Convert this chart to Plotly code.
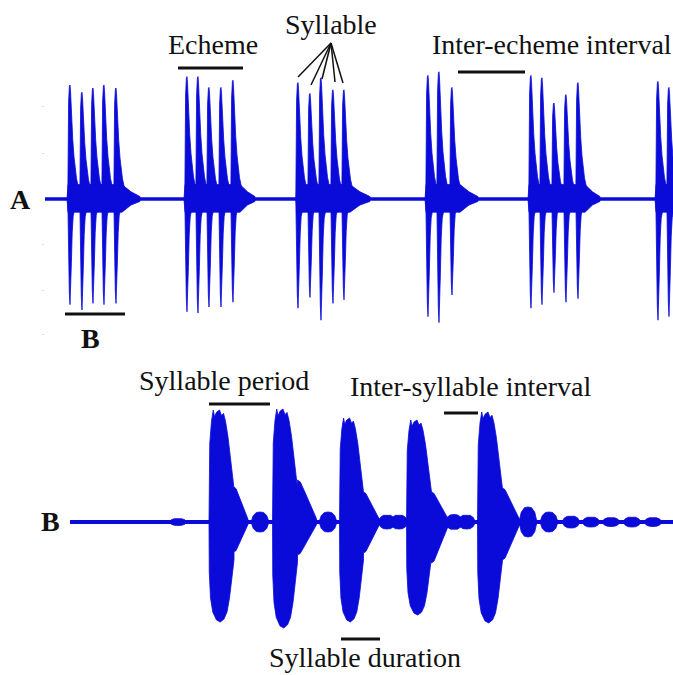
import plotly.graph_objects as go

BLUE = "#0b0bd9"
W, H = 673, 675

# ---------------- Panel A : whole call (time in ms, amplitude normalised) -------------
A_syl_t = [50, 74, 96, 118, 142,
           284, 306, 328, 352, 376,
           506, 530, 552, 576, 598,
           766, 788, 814,
           972, 994, 1018, 1042, 1066,
           1226, 1248]
A_syl_top = [0.95, 0.89, 0.925, 0.95, 0.925,
             1.02, 1.02, 0.93, 0.93, 0.99,
             0.97, 0.88, 1.01, 0.91, 0.91,
             1.03, 1.06, 0.93,
             1.03, 1.01, 0.80, 0.87, 0.97,
             0.98, 0.93]
A_syl_bot = [-0.88, -0.925, -0.87, -0.88, -0.87,
             -0.94, -0.95, -0.90, -0.90, -0.86,
             -0.91, -0.82, -1.01, -0.87, -0.84,
             -0.98, -1.03, -0.80,
             -0.91, -0.88, -0.78, -0.86, -0.83,
             -1.01, -0.98]
A_ech_start = [44, 278, 502, 760, 966, 1220]
A_ech_end = [154, 390, 610, 830, 1080, 1256]
A_ech_tail = [190, 420, 650, 866, 1110, 1256]
A_T_MAX = 1256

# ---------------- Panel B : one echeme, expanded (time in ms) -------------
B_syl_on = [55.6, 81.0, 107.8, 134.6, 163.0]
B_syl_off = [65.6, 91.0, 117.4, 144.6, 173.0]
B_syl_top = [1.12, 1.13, 1.04, 1.02, 1.10]
B_syl_bot = [-1.00, -1.06, -1.00, -0.93, -1.01]
B_tail_top = [0.35, 0.42, 0.30, 0.30, 0.34]
B_tail_bot = [-0.30, -0.33, -0.31, -0.41, -0.38]
B_tail_len = [5.6, 7.6, 6.4, 6.8, 6.8]
B_bump_t = [43.2, 76.0, 103.2, 126.8, 131.6, 153.6, 158.6,
            183.2, 191.6, 200.4, 208.4, 216.4, 224.8, 233.2]
B_bump_amp = [0.035, 0.10, 0.10, 0.07, 0.07, 0.075, 0.07,
              0.15, 0.10, 0.06, 0.05, 0.045, 0.05, 0.045]
B_T_MAX = 241.2

# envelope glyph templates (offset, fraction of peak)
A_UP = [(-4.4, 0), (-3.8, 0.5), (-2.8, 0.85), (-1.2, 0.99), (0, 1.0), (1.0, 0.95),
        (2.0, 0.82), (3.4, 0.68), (5.4, 0.53), (8.0, 0.37), (10.4, 0.27),
        (13.0, 0.18), (16.0, 0.12), (20.0, 0.06), (24.0, 0.0)]
A_DN = [(-4.4, 0), (-3.8, 0.3), (-2.8, 0.6), (-1.4, 0.88), (0, 1.0), (1.4, 0.88),
        (2.8, 0.6), (4.4, 0.32), (6.4, 0.16), (10.0, 0.08), (16.0, 0.0)]
B_UP = [(0, 0), (0, 0.45), (0.03, 0.7), (0.1, 0.9), (0.17, 1.0), (0.22, 0.94),
        (0.3, 0.98), (0.42, 1.0), (0.5, 0.95), (0.58, 0.97), (0.66, 0.9),
        (0.76, 0.76), (0.86, 0.58), (0.94, 0.4), (1.0, 0.3)]
B_DN = [(0, 0), (0.01, 0.5), (0.06, 0.76), (0.15, 0.9), (0.3, 0.98), (0.45, 1.0),
        (0.6, 0.97), (0.72, 0.9), (0.82, 0.76), (0.92, 0.55), (1.0, 0.38)]
TAIL = [(0, 1.0), (0.15, 0.95), (0.4, 0.7), (0.7, 0.38), (1.0, 0.08)]
BUMP = [(-1.0, 0), (-0.75, 0.65), (-0.4, 0.95), (0, 1.0), (0.4, 0.95), (0.75, 0.65),
        (1.0, 0), (0.75, -0.65), (0.4, -0.95), (0, -1.0), (-0.4, -0.95), (-0.75, -0.65),
        (-1.0, 0)]


def px(x):
    return x / W


def py(y):
    return 1 - y / H


# ---- build panel A polygons
ax, ay = [], []
for s, e, t in zip(A_ech_start, A_ech_end, A_ech_tail):
    up = [(s, 0), (s + 2, 0.12), (e, 0.12), ((e + t) / 2, 0.06), (t, 0.02)]
    dn = [(t, -0.02), ((e + t) / 2, -0.05), (e, -0.11), (s + 2, -0.11), (s, 0)]
    for xx, yy in up + dn:
        ax.append(xx)
        ay.append(yy)
    ax.append(None)
    ay.append(None)
for t0, top, bot in zip(A_syl_t, A_syl_top, A_syl_bot):
    for dx, f in A_UP:
        ax.append(t0 + dx)
        ay.append(top * f)
    for dx, f in reversed(A_DN):
        ax.append(t0 + dx)
        ay.append(bot * f)
    ax.append(None)
    ay.append(None)

# ---- build panel B polygons
bx, by = [], []
for on, off, top, bot, tt, tb, tl in zip(B_syl_on, B_syl_off, B_syl_top, B_syl_bot,
                                       B_tail_top, B_tail_bot, B_tail_len):
    d = off - on
    for f, a in B_UP:
        bx.append(on + f * d)
        by.append(top * a)
    for f, a in TAIL:
        bx.append(off + f * tl)
        by.append(tt * a)
    for f, a in reversed(TAIL):
        bx.append(off + f * tl)
        by.append(tb * a)
    for f, a in reversed(B_DN):
        bx.append(on + f * d)
        by.append(bot * a)
    bx.append(None)
    by.append(None)
for c, a in zip(B_bump_t, B_bump_amp):
    hw = 3.6
    for dx, f in BUMP:
        bx.append(c + dx * hw)
        by.append(a * f)
    bx.append(None)
    by.append(None)

fig = go.Figure()
fig.add_trace(go.Scatter(x=[0, A_T_MAX], y=[0, 0], mode="lines",
                         line=dict(color=BLUE, width=3.5), xaxis="x", yaxis="y",
                         hoverinfo="skip", showlegend=False))
fig.add_trace(go.Scatter(x=ax, y=ay, mode="lines", fill="toself", fillcolor=BLUE,
                         line=dict(color=BLUE, width=0.8), xaxis="x", yaxis="y",
                         hoverinfo="skip", showlegend=False))
fig.add_trace(go.Scatter(x=[0, 56, 56, B_T_MAX], y=[0, 0, 0, 0], mode="lines",
                         line=dict(color=BLUE, width=4), xaxis="x2", yaxis="y2",
                         hoverinfo="skip", showlegend=False))
fig.add_trace(go.Scatter(x=bx, y=by, mode="lines", fill="toself", fillcolor=BLUE,
                         line=dict(color=BLUE, width=0.8), xaxis="x2", yaxis="y2",
                         hoverinfo="skip", showlegend=False))

hidden = dict(showgrid=False, zeroline=False, showline=False, showticklabels=False, ticks="")
fig.update_layout(
    width=W, height=H, margin=dict(l=0, r=0, t=0, b=0),
    paper_bgcolor="white", plot_bgcolor="white",
    xaxis=dict(domain=[45 / W, 1], range=[0, A_T_MAX], anchor="y", **hidden),
    yaxis=dict(domain=[py(343), py(55)], range=[-1.2, 1.2], anchor="x",
               showgrid=False, zeroline=False, showline=False, showticklabels=False,
               ticks="outside", ticklen=2, tickwidth=1, tickcolor="#dcdcdc",
               tickvals=[0.77, 0.38, -0.38, -0.76, -1.13]),
    xaxis2=dict(domain=[70 / W, 1], range=[0, B_T_MAX], anchor="y2", **hidden),
    yaxis2=dict(domain=[py(642), py(402)], range=[-1.2, 1.2], anchor="x2", **hidden),
    showlegend=False,
)

FONT = "Liberation Serif, Times New Roman, serif"
labels = [
    ("Echeme", 213, 44, False),
    ("Syllable", 331, 25, False),
    ("Inter-echeme interval", 552, 45, False),
    ("A", 20, 199, True),
    ("B", 90, 338, True),
    ("Syllable period", 224, 380, False),
    ("Inter-syllable interval", 470, 386, False),
    ("Syllable duration", 365, 657, False),
    ("B", 50, 521, True),
]
for txt, x, y, bold in labels:
    fig.add_annotation(x=px(x), y=py(y), xref="paper", yref="paper", showarrow=False,
                       text=f"<b>{txt}</b>" if bold else txt, xanchor="center",
                       yanchor="middle", borderpad=0,
                       font=dict(family=FONT, size=28, color="#111"))

# measurement bars (data time on x, paper on y)
bars = [
    ("x", 266, 396, 68),   # echeme
    ("x", 826, 960, 72),   # inter-echeme interval
    ("x", 40, 160, 314),   # B section
    ("x2", 55.6, 80.0, 404),   # syllable period
    ("x2", 149.6, 163.2, 413),  # inter-syllable interval
    ("x2", 108.4, 124.0, 639),  # syllable duration
]
for xr, x0, x1, y in bars:
    fig.add_shape(type="line", xref=xr, yref="paper", x0=x0, x1=x1, y0=py(y), y1=py(y),
                  line=dict(color="#111", width=3))

# syllable pointer lines
apex = (331, 43)
for ex, ey in [(298, 77), (311, 85), (322, 79), (335, 82), (343, 83)]:
    fig.add_shape(type="line", xref="paper", yref="paper", x0=px(apex[0]), y0=py(apex[1]),
                  x1=px(ex), y1=py(ey), line=dict(color="#111", width=1.5))

fig.write_html("out.html")
